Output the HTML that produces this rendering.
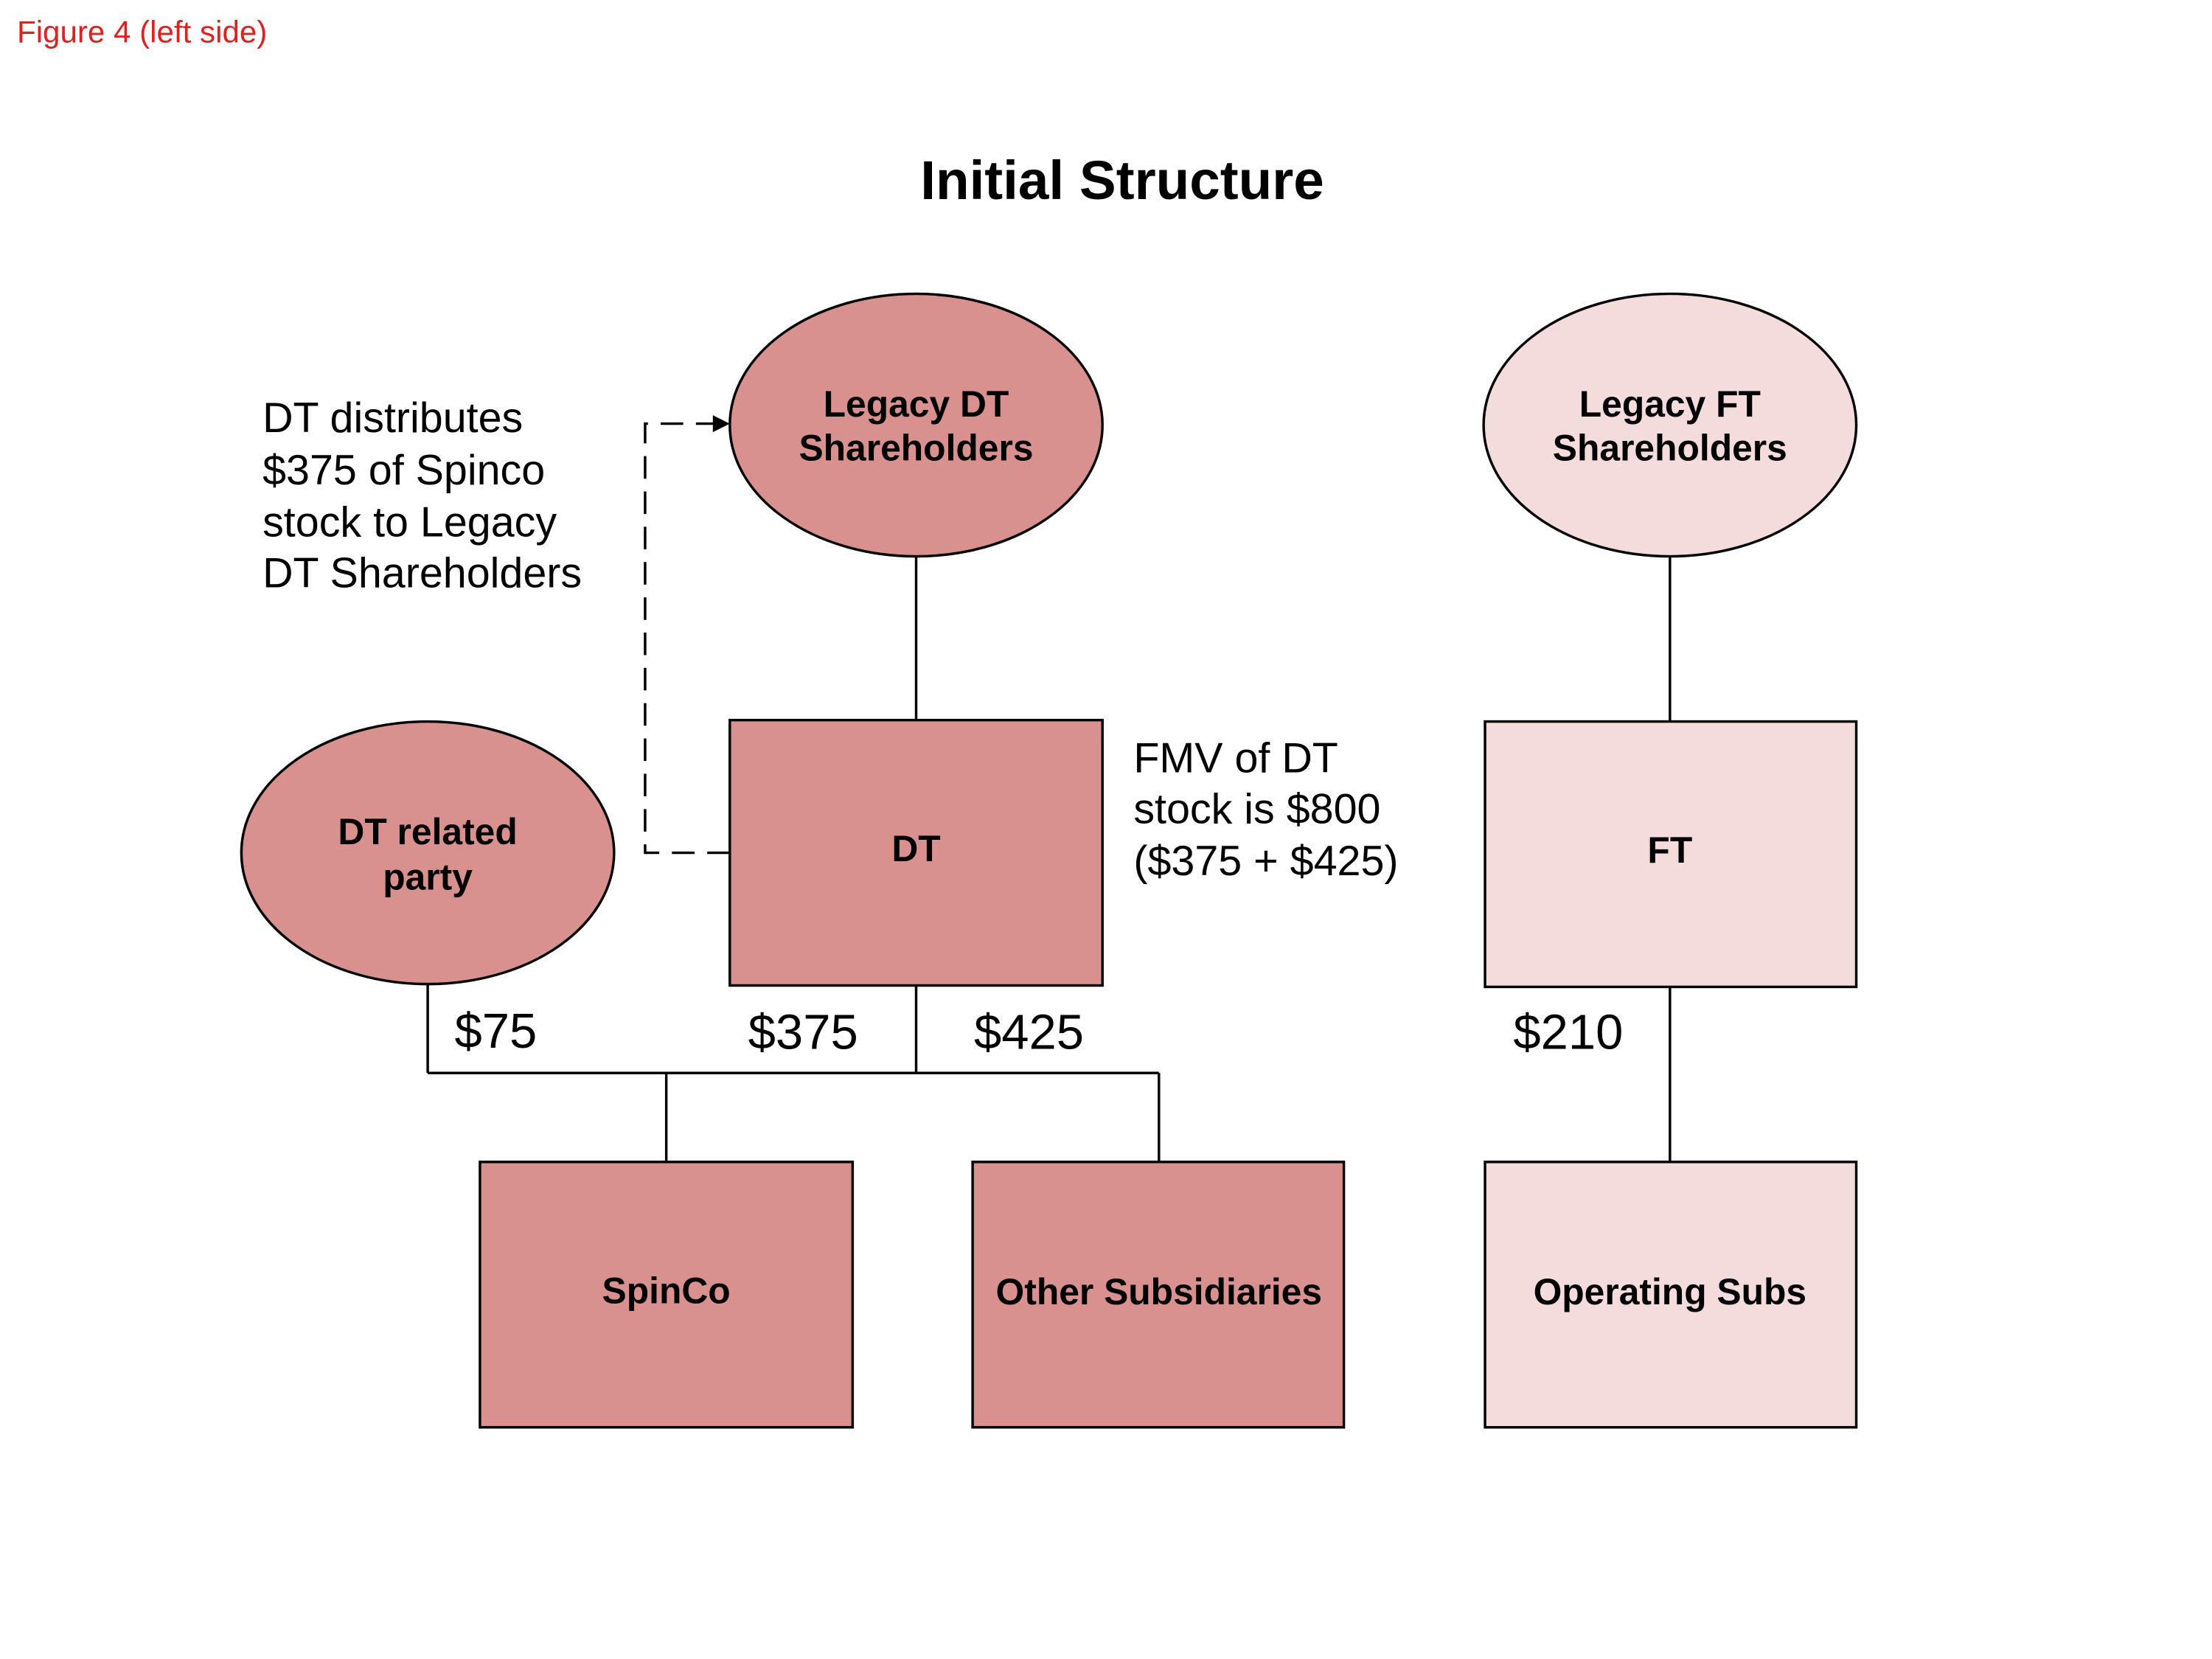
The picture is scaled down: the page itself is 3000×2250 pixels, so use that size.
<!DOCTYPE html>
<html><head><meta charset="utf-8"><style>html,body{margin:0;padding:0;background:#fff}svg{display:block}</style></head>
<body>
<svg width="3000" height="2250" viewBox="0 0 1567 1175" xmlns="http://www.w3.org/2000/svg" font-family="Liberation Sans, Arial, sans-serif">
<rect width="1567" height="1175" fill="#fff"/>
<text x="12" y="30" font-size="22" fill="#e02020">Figure 4 (left side)</text>
<text x="795" y="141" font-size="39" font-weight="bold" text-anchor="middle">Initial Structure</text>
<g stroke="#000" stroke-width="1.8" fill="none">
<line x1="649" y1="394" x2="649" y2="510"/>
<line x1="1183" y1="394" x2="1183" y2="511"/>
<line x1="649" y1="698" x2="649" y2="760"/>
<line x1="303" y1="697" x2="303" y2="760"/>
<line x1="303" y1="760" x2="821" y2="760"/>
<line x1="472" y1="760" x2="472" y2="823"/>
<line x1="821" y1="760" x2="821" y2="823"/>
<line x1="1183" y1="699" x2="1183" y2="823"/>
<polyline points="517,604 457,604 457,300 506,300" stroke-dasharray="16,9"/>
</g>
<polygon points="517,300 505,294 505,306" fill="#000"/>
<g stroke="#000" stroke-width="1.8">
<ellipse cx="649" cy="301" rx="132" ry="93" fill="#d8918e"/>
<ellipse cx="1183" cy="301" rx="132" ry="93" fill="#f4dcdc"/>
<ellipse cx="303" cy="604" rx="132" ry="93" fill="#d8918e"/>
<rect x="517" y="510" width="264" height="188" fill="#d8918e"/>
<rect x="1052" y="511" width="263" height="188" fill="#f4dcdc"/>
<rect x="340" y="823" width="264" height="188" fill="#d8918e"/>
<rect x="689" y="823" width="263" height="188" fill="#d8918e"/>
<rect x="1052" y="823" width="263" height="188" fill="#f4dcdc"/>
</g>
<g font-size="26" font-weight="bold" text-anchor="middle">
<text x="649" y="295">Legacy DT</text><text x="649" y="326">Shareholders</text>
<text x="1183" y="295">Legacy FT</text><text x="1183" y="326">Shareholders</text>
<text x="303" y="598">DT related</text><text x="303" y="630">party</text>
<text x="649" y="610">DT</text>
<text x="1183" y="611">FT</text>
<text x="472" y="923">SpinCo</text>
<text x="821" y="924">Other Subsidiaries</text>
<text x="1183" y="924">Operating Subs</text>
</g>
<g font-size="30">
<text x="186" y="306">DT distributes</text>
<text x="186" y="343">$375 of Spinco</text>
<text x="186" y="380">stock to Legacy</text>
<text x="186" y="416">DT Shareholders</text>
<text x="803" y="547">FMV of DT</text>
<text x="803" y="583">stock is $800</text>
<text x="803" y="620">($375 + $425)</text>
</g>
<g font-size="35">
<text x="322" y="742">$75</text>
<text x="530" y="743">$375</text>
<text x="690" y="743">$425</text>
<text x="1072" y="743">$210</text>
</g>
</svg>
</body></html>
